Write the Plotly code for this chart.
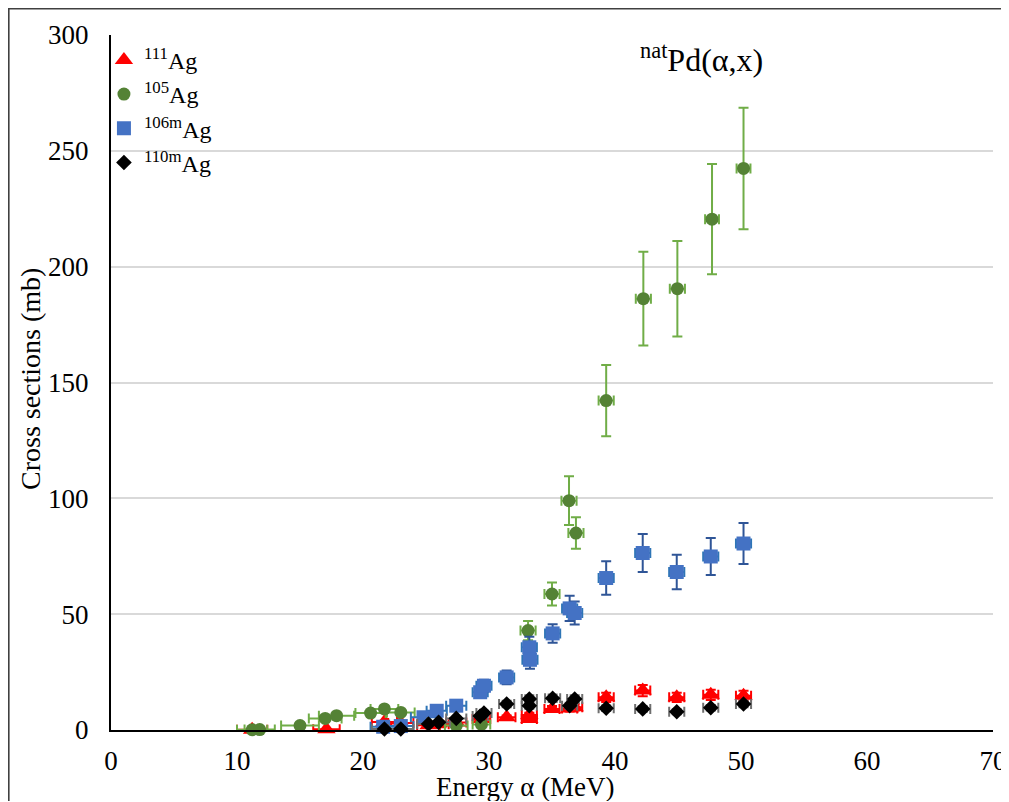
import plotly.graph_objects as go

# ---------------- data ----------------
# 111Ag
ag111_E = [11.2, 17.1, 21.7, 23.0, 25.2, 25.9, 27.4, 29.4, 31.4, 33.2, 33.2, 35.0, 36.4, 36.8, 39.3, 42.2, 44.9, 47.6, 50.2]
ag111_y = [0.1, 0.3, 3.5, 3.0, 2.0, 2.5, 3.2, 4.8, 5.5, 6.5, 4.7, 9.1, 9.3, 9.8, 14.1, 17.0, 14.1, 15.2, 14.8]
ag111_dy = [0.1, 0.1, 0.5, 0.5, 0.4, 0.4, 0.5, 0.7, 0.8, 1.0, 0.8, 1.3, 1.3, 1.4, 2.0, 2.4, 2.0, 2.2, 2.1]
ag111_dE = [1.2, 1.05, 1.0, 1.0, 0.9, 0.9, 0.8, 0.7, 0.7, 0.6, 0.6, 0.6, 0.6, 0.6, 0.6, 0.6, 0.6, 0.6, 0.6]

# 105Ag
ag105_E = [11.2, 11.8, 15.0, 17.0, 17.9, 20.6, 21.7, 23.0, 27.4, 29.4, 33.1, 35.0, 36.35, 36.9, 39.3, 42.25, 44.95, 47.7, 50.2]
ag105_y = [0.1, 0.2, 1.9, 5.0, 6.2, 7.3, 9.1, 7.6, 1.9, 2.4, 42.9, 58.7, 99.0, 85.0, 142.2, 186.2, 190.5, 220.5, 242.4]
ag105_dy = [0.05, 0.05, 0.3, 0.7, 0.8, 1.0, 1.2, 1.0, 0.4, 0.5, 4.2, 5.0, 10.5, 6.8, 15.4, 20.2, 20.6, 23.8, 26.2]
ag105_dE = [1.2, 1.2, 1.5, 1.3, 1.4, 1.2, 1.1, 1.1, 0.9, 0.7, 0.6, 0.6, 0.6, 0.6, 0.6, 0.6, 0.6, 0.55, 0.55]

# 106mAg
ag106m_E = [21.6, 23.0, 24.8, 25.85, 27.4, 29.3, 29.6, 31.4, 33.2, 33.25, 35.05, 36.4, 36.8, 39.3, 42.2, 44.9, 47.6, 50.2]
ag106m_y = [1.4, 1.7, 5.5, 8.3, 10.5, 16.3, 19.1, 22.7, 35.7, 30.3, 41.7, 52.5, 50.5, 65.6, 76.4, 68.2, 74.9, 80.5]
ag106m_dy = [0.3, 0.3, 0.9, 1.2, 1.5, 2.2, 2.6, 3.0, 4.5, 3.9, 4.0, 5.5, 5.0, 7.2, 8.2, 7.4, 8.0, 8.8]
ag106m_dE = [1.0, 1.0, 1.0, 0.8, 0.8, 0.6, 0.6, 0.6, 0.6, 0.6, 0.6, 0.6, 0.6, 0.6, 0.6, 0.6, 0.6, 0.6]

# 110mAg
ag110m_E = [21.7, 23.0, 25.2, 26.0, 27.4, 29.3, 29.6, 31.4, 33.2, 33.2, 35.05, 36.4, 36.8, 39.3, 42.2, 44.9, 47.6, 50.2]
ag110m_y = [0.4, 0.4, 2.6, 3.3, 5.0, 6.0, 7.3, 11.2, 13.4, 10.5, 13.7, 10.5, 13.4, 9.4, 9.1, 7.9, 9.6, 11.2]
ag110m_dy = [0.1, 0.1, 0.4, 0.5, 0.7, 0.9, 1.0, 1.4, 1.6, 1.3, 1.6, 1.3, 1.6, 1.2, 1.2, 1.1, 1.2, 1.4]
ag110m_dE = [1.0, 1.0, 0.9, 0.9, 0.8, 0.6, 0.6, 0.6, 0.6, 0.6, 0.6, 0.6, 0.6, 0.6, 0.6, 0.6, 0.6, 0.6]

x_ticks = [0, 10, 20, 30, 40, 50, 60, 70]
y_ticks = [0, 50, 100, 150, 200, 250, 300]

FONT = "Liberation Serif, Times New Roman, serif"

# figure geometry (page has an 8px body margin, so the figure is offset)
W, H = 1001, 793
L, T = 103, 27
PW, PH = 882, 695
R = W - L - PW
B = H - T - PH


def px(fx):
    return (fx - L) / PW


def py(fy):
    return (T + PH - fy) / PH


fig = go.Figure()


def add_series(name, E, y, dy, dE, symbol, size, mcolor, ycol, xcol):
    fig.add_trace(go.Scatter(
        x=E, y=y, mode="markers", name=name, cliponaxis=False,
        marker=dict(symbol=symbol, size=size, color=mcolor, line=dict(width=0)),
        error_y=dict(type="data", array=dy, visible=True, color=ycol, thickness=2, width=5),
        error_x=dict(type="data", array=dE, visible=True, color=xcol, thickness=2, width=5),
    ))


add_series("<sup>111</sup>Ag", ag111_E, ag111_y, ag111_dy, ag111_dE,
           "triangle-up", 16, "#FF0000", "#FF0000", "#FF0000")
add_series("<sup>105</sup>Ag", ag105_E, ag105_y, ag105_dy, ag105_dE,
           "circle", 13, "#548235", "#70AD47", "#70AD47")
add_series("<sup>106m</sup>Ag", ag106m_E, ag106m_y, ag106m_dy, ag106m_dE,
           "square", 14, "#4472C4", "#2F5597", "#2E75B6")
add_series("<sup>110m</sup>Ag", ag110m_E, ag110m_y, ag110m_dy, ag110m_dE,
           "diamond", 12, "#000000", "#6F6F6F", "#6F6F6F")

fig.update_layout(
    width=W, height=H,
    margin=dict(l=L, r=R, t=T, b=B, pad=0, autoexpand=False),
    paper_bgcolor="white", plot_bgcolor="white",
    font=dict(family=FONT, size=26, color="black"),
    showlegend=True,
    legend=dict(x=-0.008, y=0.996, xanchor="left", yanchor="top",
                bgcolor="rgba(0,0,0,0)", font=dict(family=FONT, size=24, color="black"),
                tracegroupgap=0),
    xaxis=dict(range=[0, 70], tickvals=x_ticks, ticktext=[str(v) for v in x_ticks],
               automargin=False,
               showgrid=False, zeroline=False, showline=True, linecolor="black", linewidth=2,
               ticks="", ticklabelstandoff=6,
               tickfont=dict(family=FONT, size=27, color="black")),
    yaxis=dict(range=[0, 300], tickvals=y_ticks, ticktext=[str(v) for v in y_ticks],
               automargin=False,
               showgrid=True, gridcolor="#D9D9D9", gridwidth=1.5,
               zeroline=False, showline=True, linecolor="black", linewidth=2,
               ticks="", ticklabelstandoff=15,
               tickfont=dict(family=FONT, size=27, color="black")),
    annotations=[
        dict(text="<sup>nat</sup>Pd(α,x)", x=px(693), y=py(50),
             xref="paper", yref="paper", showarrow=False, xanchor="center", yanchor="middle",
             font=dict(family=FONT, size=32, color="black")),
        dict(text="Energy α (MeV)", x=px(517), y=py(779),
             xref="paper", yref="paper", showarrow=False, xanchor="center", yanchor="middle",
             font=dict(family=FONT, size=27, color="black")),
        dict(text="Cross sections (mb)", x=px(22), y=py(371), textangle=-90,
             xref="paper", yref="paper", showarrow=False, xanchor="center", yanchor="middle",
             font=dict(family=FONT, size=28, color="black")),
    ],
    shapes=[dict(type="rect", xref="paper", yref="paper",
                 x0=px(0.8), x1=px(W + 10),
                 y0=py(H + 10), y1=py(0.8),
                 line=dict(color="#404040", width=1.6), fillcolor="rgba(0,0,0,0)", layer="below")],
)

fig.write_html("out.html")
